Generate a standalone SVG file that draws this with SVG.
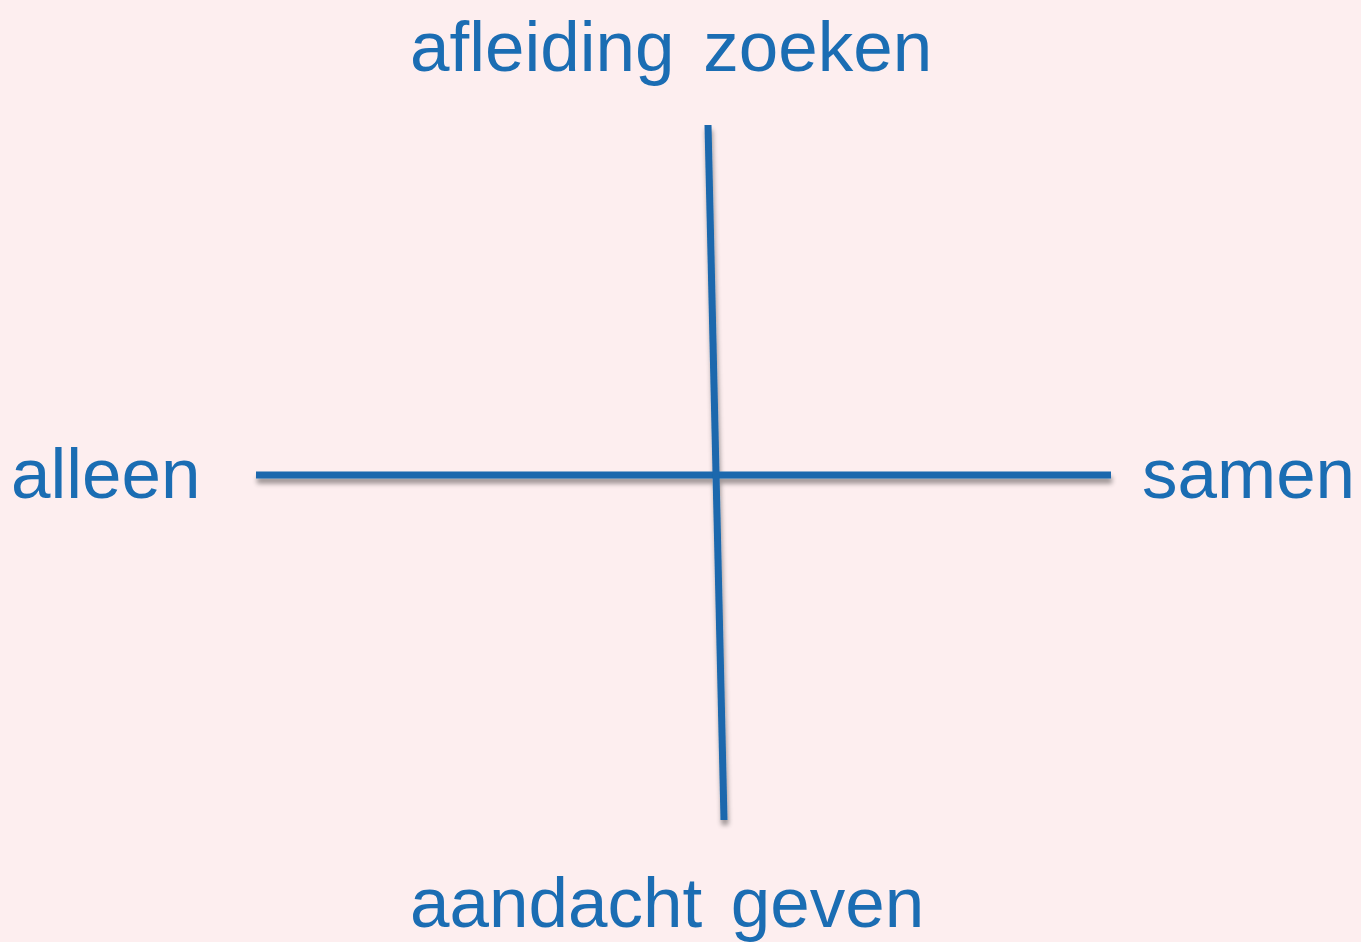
<svg xmlns="http://www.w3.org/2000/svg" width="1361" height="942" viewBox="0 0 1361 942">
<defs>
<style>
.lbl{font-family:"Liberation Sans",Arial,sans-serif;font-size:71px;fill:#1b6db3;word-spacing:9px}
.axis{stroke:#1a68ad;stroke-width:7;fill:none}
</style>
<filter id="sh" x="-10%" y="-10%" width="120%" height="120%">
<feGaussianBlur in="SourceAlpha" stdDeviation="2.5"/>
<feOffset dx="1" dy="5" result="b"/>
<feComponentTransfer><feFuncA type="linear" slope="0.4"/></feComponentTransfer>
<feMerge><feMergeNode/><feMergeNode in="SourceGraphic"/></feMerge>
</filter>
</defs>
<rect width="1361" height="942" fill="#fdeeef"/>
<g id="connectors" filter="url(#sh)">
<line class="axis" x1="256" y1="475" x2="1111" y2="475"/>
<line class="axis" x1="708" y1="125" x2="724" y2="820"/>
</g>
<g id="top"><text class="lbl" x="410" y="71">afleiding zoeken</text></g>
<g id="left"><text class="lbl" x="11" y="498">alleen</text></g>
<g id="right"><text class="lbl" x="1142" y="498">samen</text></g>
<g id="bottom"><text class="lbl" x="410" y="927">aandacht geven</text></g>
</svg>
